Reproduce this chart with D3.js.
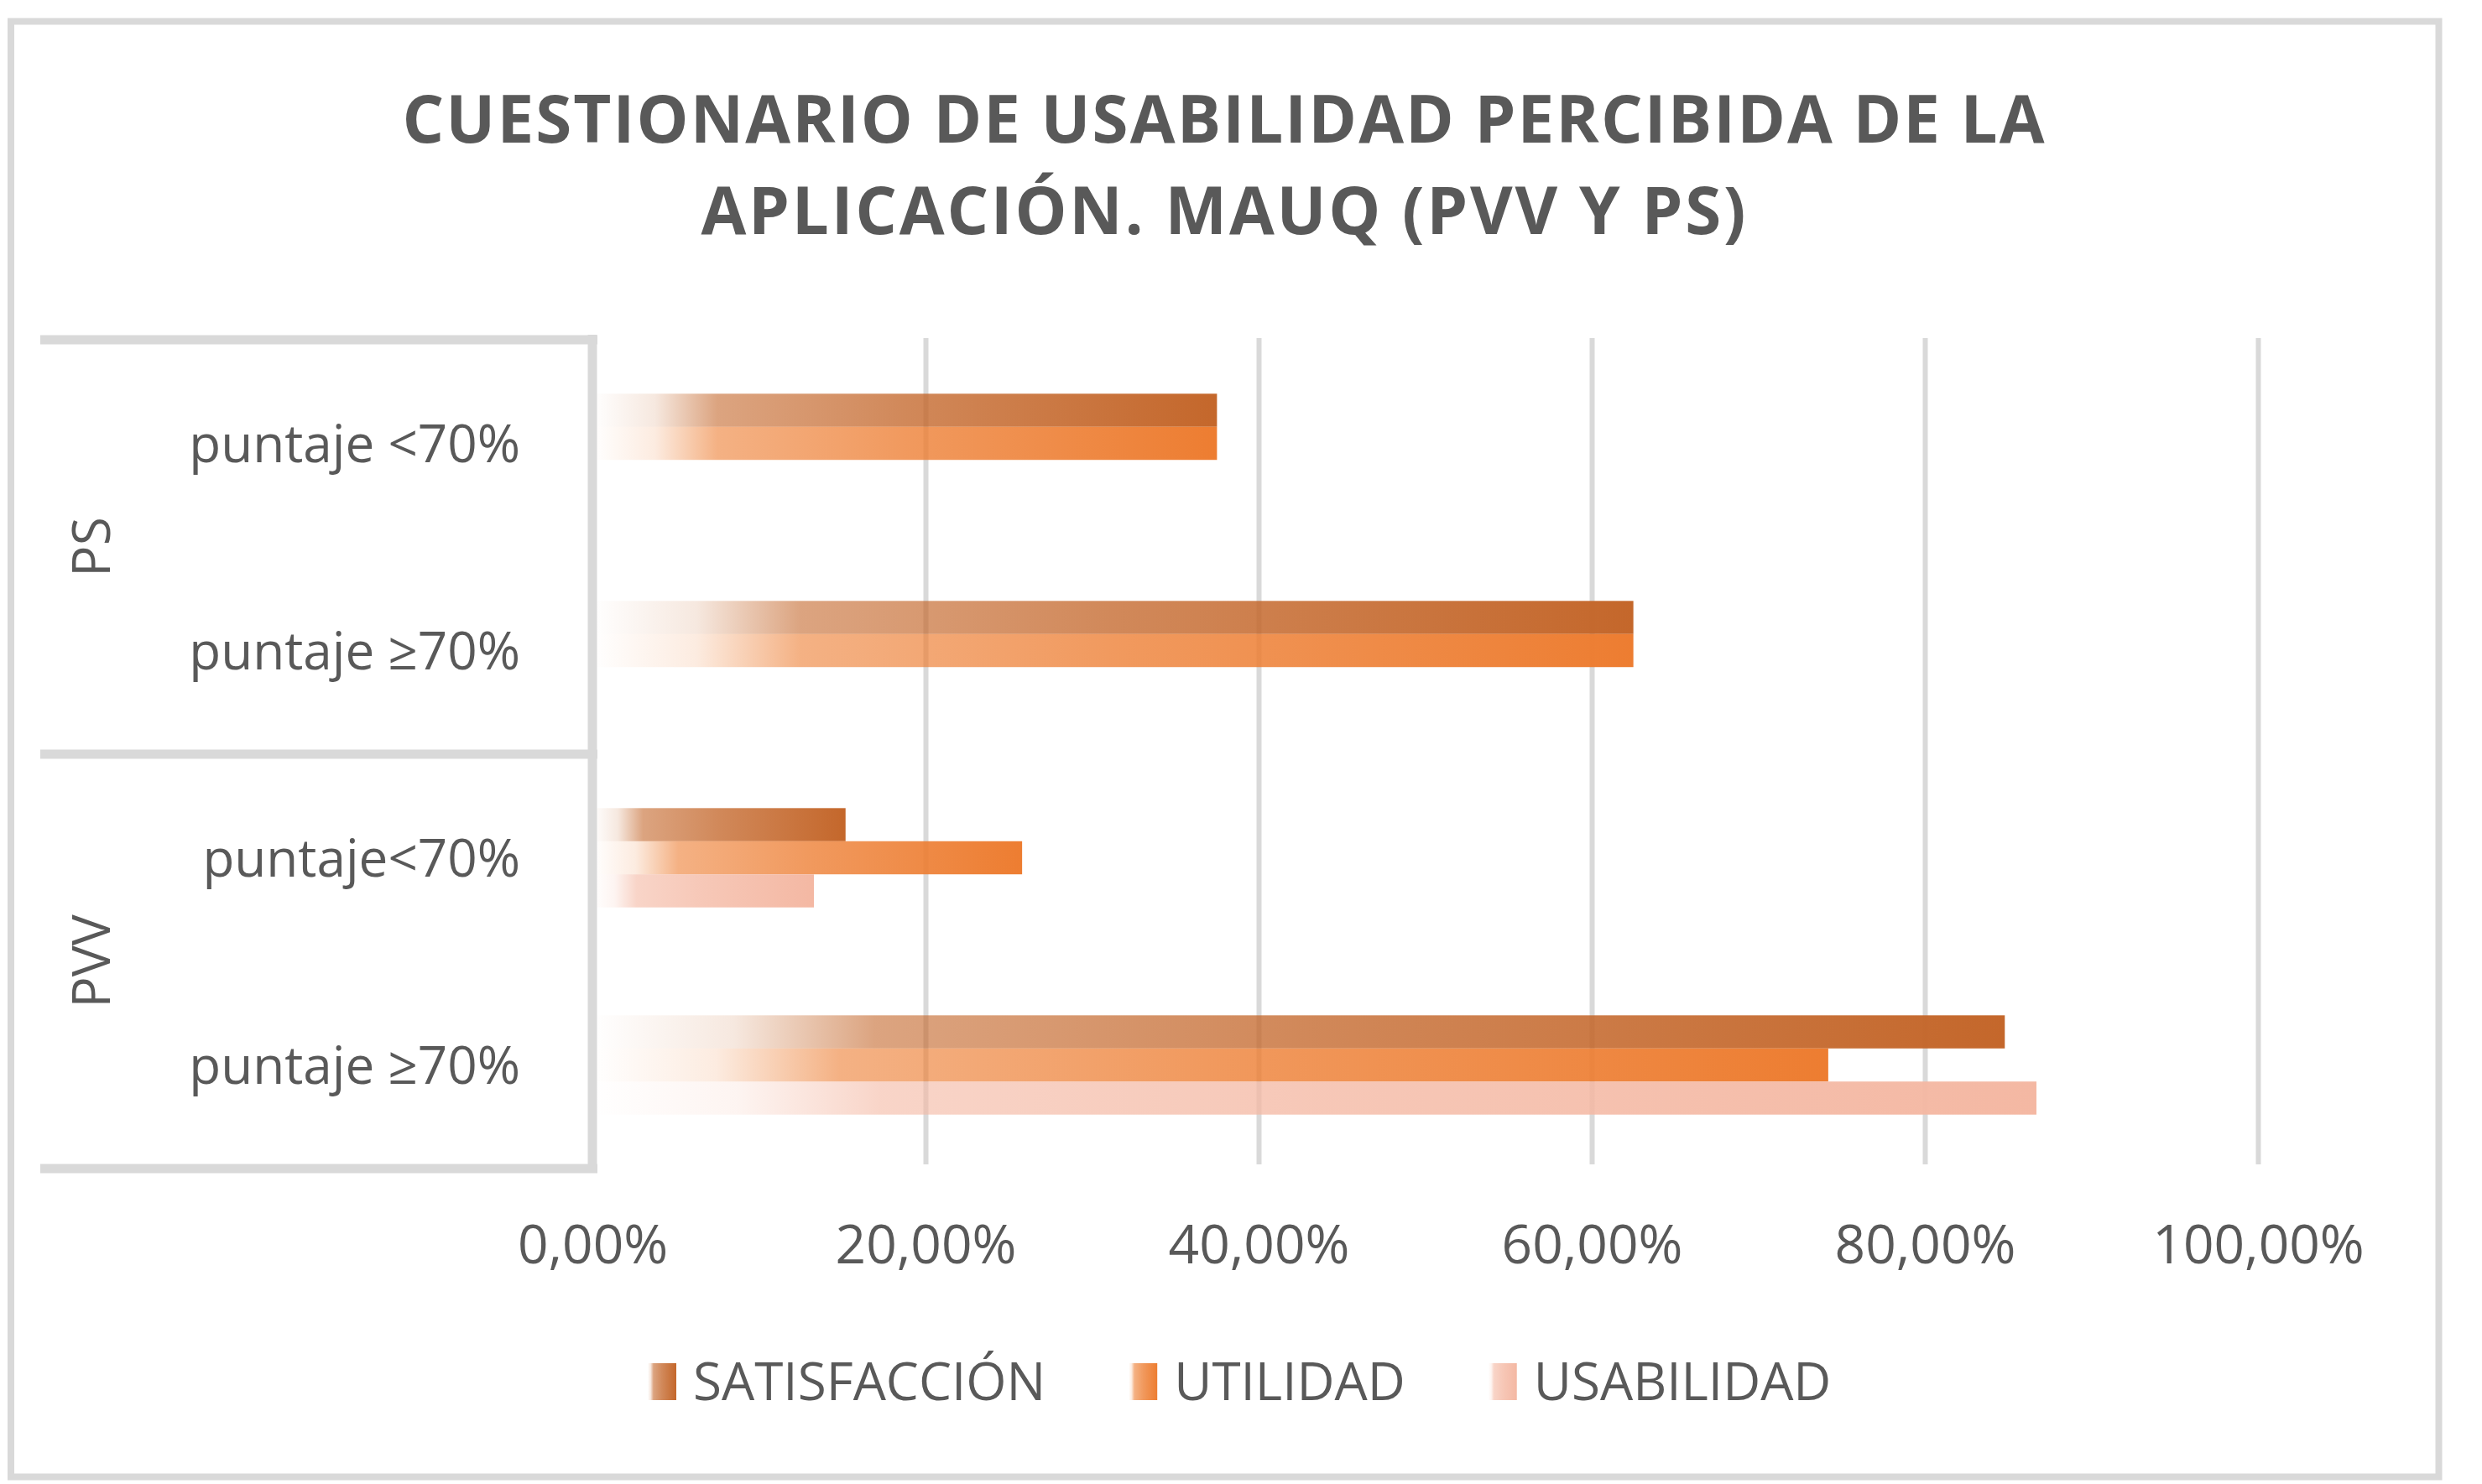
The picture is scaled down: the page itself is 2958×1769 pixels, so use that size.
<!DOCTYPE html>
<html>
<head>
<meta charset="utf-8">
<script src="https://cdn.jsdelivr.net/npm/d3@7"></script>
<style>
  html, body { margin: 0; padding: 0; background: #fff; }
  svg { display: block; }
  text { font-family: "Open Sans", "Noto Sans", sans-serif; fill: #595959; }
</style>
</head>
<body>
<svg id="chart" width="2958" height="1769"></svg>
<script>
// ---- data ----
const titleLines = ["CUESTIONARIO DE USABILIDAD PERCIBIDA DE LA", "APLICACIÓN. MAUQ (PVV Y PS)"];
const groups = ["PS", "PS", "PVV", "PVV"];
const categories = ["puntaje <70%", "puntaje ≥70%", "puntaje<70%", "puntaje ≥70%"];
const seriesNames = ["SATISFACCIÓN", "UTILIDAD", "USABILIDAD"];
const satisfaccion = [0.375, 0.625, 0.152, 0.848];
const utilidad = [0.375, 0.625, 0.258, 0.742];
const usabilidad = [null, null, 0.133, 0.867];
const xTicks = [0, 0.2, 0.4, 0.6, 0.8, 1.0];
const seriesColors = ["#C4672B", "#ED7D31", "#F4B8A3"];

const seriesValues = [satisfaccion, utilidad, usabilidad];

// ---- layout ----
const svg = d3.select("#chart");
const W = 2958, H = 1769;
svg.append("rect").attr("width", W).attr("height", H).attr("fill", "#fff");
svg.append("rect").attr("x", 13).attr("y", 25.5).attr("width", 2893.5).attr("height", 1735)
  .attr("fill", "none").attr("stroke", "#D9D9D9").attr("stroke-width", 8);

const gridColor = "#D9D9D9";
const plot = { left: 706, right: 2691, top: 405, bottom: 1393 };

const keys = categories.map((c, i) => groups[i] + "|" + c);
const x = d3.scaleLinear().domain([0, 1]).range([plot.left, plot.right]);
const y0 = d3.scaleBand().domain(keys).range([plot.top, plot.bottom]).padding(0);
const y1 = d3.scaleBand().domain(seriesNames).range([0, y0.bandwidth()]).paddingInner(0).paddingOuter(1.63);

// gradients
const defs = svg.append("defs");
seriesColors.forEach((c, i) => {
  const g = defs.append("linearGradient").attr("id", "grad" + i)
    .attr("x1", "0%").attr("x2", "100%").attr("y1", "0%").attr("y2", "0%");
  [[0, 0.0], [0.1, 0.15], [0.2, 0.6], [0.5, 0.78], [1, 1]].forEach(([o, a]) => {
    g.append("stop").attr("offset", (o * 100) + "%").attr("stop-color", c).attr("stop-opacity", a);
  });
});

// title
const title = svg.append("g");
const titleWidths = [1957, 1245];
titleLines.forEach((t, i) => {
  title.append("text")
    .attr("x", 1458).attr("y", 170 + i * 109)
    .attr("text-anchor", "middle")
    .attr("font-size", 78).attr("font-weight", "bold")
    .attr("textLength", titleWidths[i]).attr("lengthAdjust", "spacing")
    .text(t);
});

// gridlines
const loc = d3.formatLocale({ decimal: ",", thousands: ".", grouping: [3], currency: ["", "€"] });
const fmt = loc.format(".2%");
const xAxis = d3.axisBottom(x).tickValues(xTicks).tickFormat(fmt).tickSize(plot.bottom - plot.top - 3).tickPadding(0);
const gx = svg.append("g").attr("transform", `translate(0,${plot.top - 2})`).call(xAxis);
gx.select(".domain").remove();
gx.selectAll(".tick line").attr("stroke", gridColor).attr("stroke-width", 6);
gx.selectAll(".tick").filter(d => d === 0).select("line").remove();
gx.selectAll(".tick text").attr("y", 1506 - plot.top + 2).attr("dy", 0)
  .attr("font-size", 64).attr("fill", "#595959").attr("font-family", '"Open Sans", sans-serif');

// bars
const barG = svg.append("g");
keys.forEach((k, ci) => {
  seriesNames.forEach((s, si) => {
    const v = seriesValues[si][ci];
    if (v == null) return;
    barG.append("rect")
      .attr("x", x(0))
      .attr("y", y0(k) + y1(s))
      .attr("width", x(v) - x(0))
      .attr("height", y1.bandwidth())
      .attr("fill", `url(#grad${si})`);
  });
});

// category table lines
const lineG = svg.append("g");
const groupNames = Array.from(new Set(groups));
const boundaries = [plot.top];
groupNames.forEach(gn => {
  const idx = groups.lastIndexOf(gn);
  boundaries.push(y0(keys[idx]) + y0.bandwidth());
});
boundaries.forEach(b => {
  lineG.append("line").attr("x1", 48).attr("x2", plot.left + 6).attr("y1", b).attr("y2", b)
    .attr("stroke", gridColor).attr("stroke-width", 11);
});
lineG.append("line").attr("x1", plot.left).attr("x2", plot.left)
  .attr("y1", plot.top - 6).attr("y2", plot.bottom + 5)
  .attr("stroke", gridColor).attr("stroke-width", 11);

// category labels
keys.forEach((k, i) => {
  svg.append("text")
    .attr("x", 620).attr("y", y0(k) + y0.bandwidth() / 2)
    .attr("dy", "0.36em")
    .attr("text-anchor", "end")
    .attr("font-size", 62)
    .text(categories[i]);
});
// group labels
groupNames.forEach(gn => {
  const first = groups.indexOf(gn), last = groups.lastIndexOf(gn);
  const cy = (y0(keys[first]) + y0(keys[last]) + y0.bandwidth()) / 2;
  svg.append("text")
    .attr("transform", `translate(131,${cy}) rotate(-90)`)
    .attr("text-anchor", "middle")
    .attr("font-size", 62)
    .text(gn);
});

// legend
const leg = svg.append("g");
let lx = 772;
seriesNames.forEach((s, i) => {
  leg.append("rect").attr("x", lx).attr("y", 1625).attr("width", 34).attr("height", 44)
    .attr("fill", `url(#grad${i})`);
  const t = leg.append("text").attr("x", lx + 54).attr("y", 1669)
    .attr("font-size", 62).text(s);
  lx = lx + 54 + t.node().getComputedTextLength() + 99;
});
</script>
</body>
</html>
